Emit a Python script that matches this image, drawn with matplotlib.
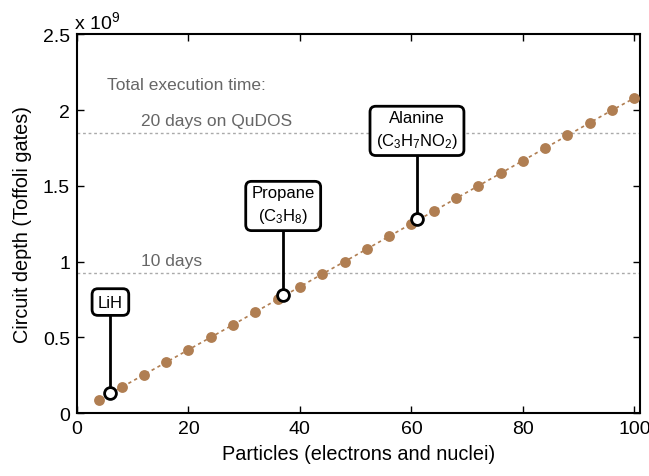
import matplotlib
matplotlib.use("Agg")
import matplotlib.pyplot as plt

plt.rcParams['font.family'] = ['Liberation Sans', 'DejaVu Sans']
plt.rcParams['mathtext.fontset'] = 'custom'
plt.rcParams['mathtext.rm'] = 'Liberation Sans'
plt.rcParams['mathtext.it'] = 'Liberation Sans'

particles = [4, 8, 12, 16, 20, 24, 28, 32, 36, 40, 44, 48, 52, 56, 60, 64, 68, 72, 76, 80, 84, 88, 92, 96, 100]
depth = [0.088, 0.170, 0.253, 0.335, 0.418, 0.500, 0.583, 0.667, 0.751, 0.834, 0.918, 1.000, 1.083,
         1.167, 1.250, 1.333, 1.417, 1.500, 1.583, 1.667, 1.750, 1.833, 1.917, 2.000, 2.080]
depth = [d * 1e9 for d in depth]

molecules = ["LiH", "Propane\n($\\mathregular{C_3H_8}$)", "Alanine\n($\\mathregular{C_3H_7NO_2}$)"]
mol_particles = [6, 37, 61]
mol_depth = [0.13e9, 0.78e9, 1.28e9]
label_y = [0.733e9, 1.374e9, 1.87e9]

time_levels = [0.926e9, 1.852e9]
time_labels = ["10 days", "20 days on QuDOS"]

fig = plt.figure(figsize=(6.49, 4.77), dpi=100)
ax = fig.add_axes([0.1186, 0.132, 0.8674, 0.7936])

color = '#B07E52'
for lvl in time_levels:
    ax.axhline(lvl, color='#AAAAAA', ls=(0, (2, 2)), lw=1.0, zorder=1)

ax.plot(particles, depth, ls=(0, (2, 2)), color=color, lw=1.2, zorder=2)
ax.plot(particles, depth, 'o', color=color, ms=7.8, mec='none', zorder=3)

for name, px, py, ly in zip(molecules, mol_particles, mol_depth, label_y):
    ax.plot([px, px], [py, ly], color='black', lw=2, zorder=4)
    ax.text(px, ly, name, ha='center', va='center', fontsize=12, zorder=6,
            linespacing=1.4,
            bbox=dict(boxstyle='round,pad=0.35,rounding_size=0.35', fc='white', ec='black', lw=2))
    ax.plot(px, py, 'o', mfc='white', mec='black', mew=2, ms=8.5, zorder=7)

ax.text(5.3, 2.17e9, "Total execution time:", color='#666666', fontsize=12.5, ha='left', va='center')
ax.text(11.5, time_levels[1] + 0.03e9, time_labels[1], color='#666666', fontsize=12.5, ha='left', va='bottom')
ax.text(11.5, time_levels[0] + 0.03e9, time_labels[0], color='#666666', fontsize=12.5, ha='left', va='bottom')

ax.set_xlim(0, 101)
ax.set_ylim(0, 2.5e9)
ax.set_xticks([0, 20, 40, 60, 80, 100])
ax.set_yticks([0, 0.5e9, 1e9, 1.5e9, 2e9, 2.5e9])
ax.set_yticklabels(['0', '0.5', '1', '1.5', '2', '2.5'])
ax.tick_params(direction='in', top=True, right=True, labelsize=14, length=5, width=1, pad=5)
for s in ax.spines.values():
    s.set_linewidth(1.5)
ax.text(-0.005, 1.005, "x 10$^{9}$", transform=ax.transAxes, fontsize=14, ha='left', va='bottom')

ax.set_xlabel("Particles (electrons and nuclei)", fontsize=14.3, labelpad=5)
ax.set_ylabel("Circuit depth (Toffoli gates)", fontsize=14.3, labelpad=8)

fig.savefig("out.png", dpi=100)
